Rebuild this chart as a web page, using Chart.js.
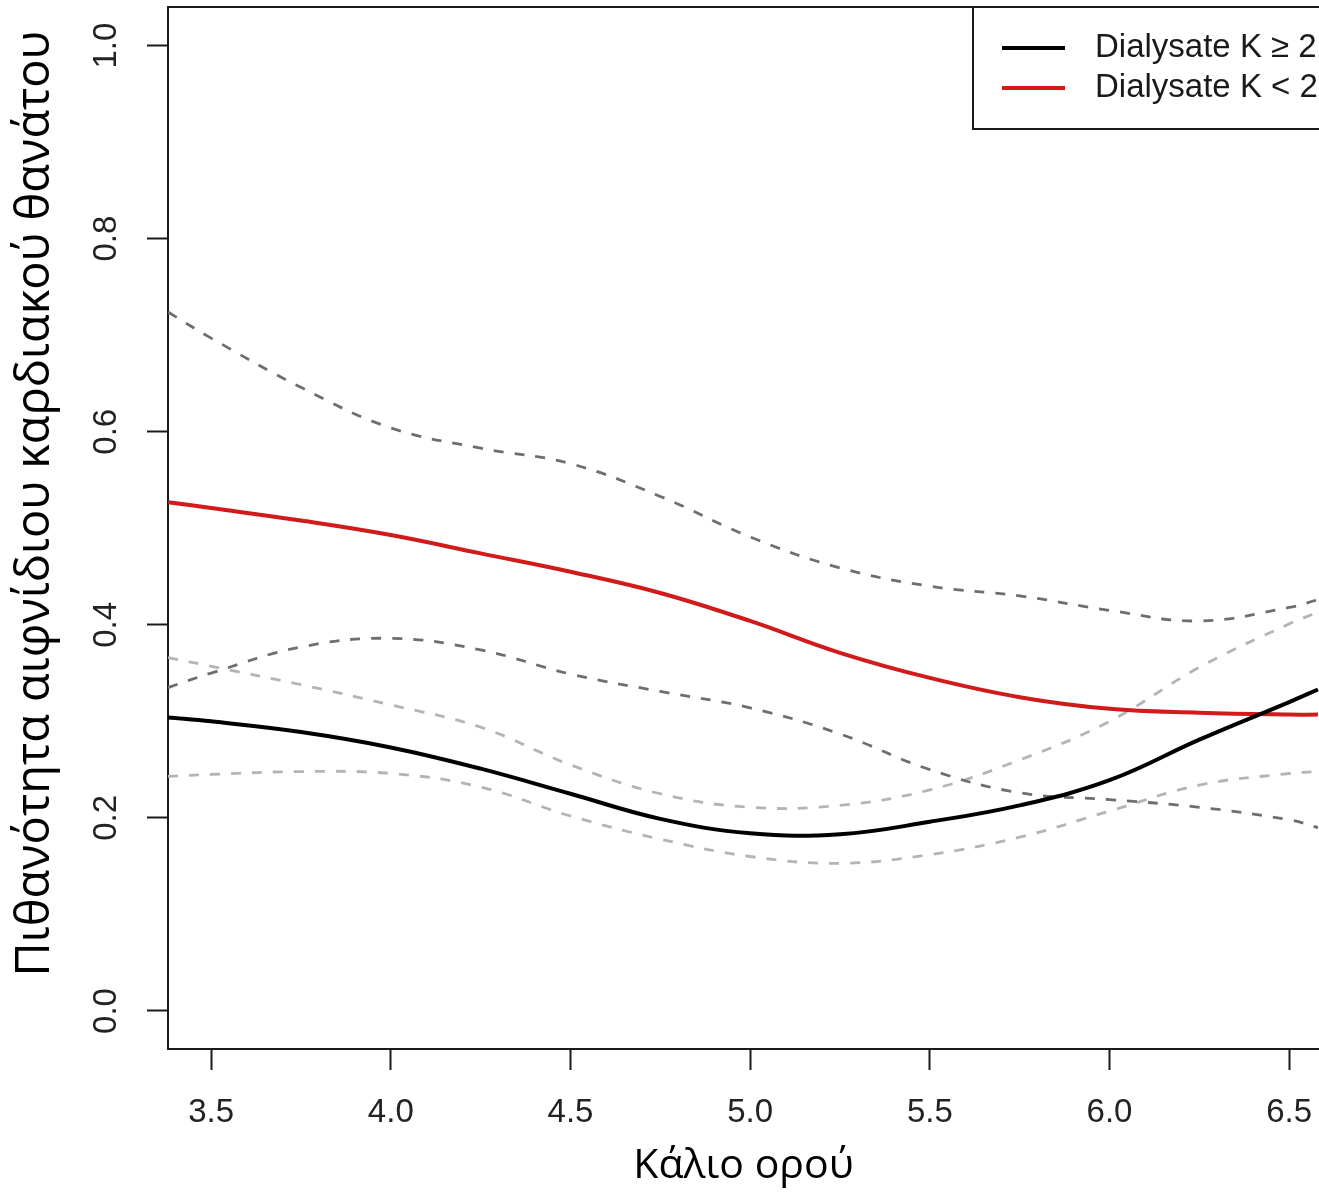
<!DOCTYPE html>
<html>
<head>
<meta charset="utf-8">
<script src="https://cdn.jsdelivr.net/npm/chart.js@4/dist/chart.umd.min.js"></script>
<style>
  html, body { margin: 0; padding: 0; background: #fff; overflow: hidden; }
  canvas { display: block; }
</style>
</head>
<body>
<canvas id="riskChart" width="1319" height="1192"></canvas>
<script>
// serum potassium (x) and estimated probability of sudden cardiac death
const xValues    = [3.38, 3.5, 3.75, 4.0, 4.25, 4.5, 4.75, 5.0, 5.25, 5.5, 5.75, 6.0, 6.25, 6.5, 6.58];
const blackFit   = [0.304, 0.300, 0.289, 0.273, 0.251, 0.225, 0.199, 0.184, 0.183, 0.196, 0.213, 0.239, 0.281, 0.320, 0.333];
const blackUpper = [0.366, 0.357, 0.338, 0.317, 0.294, 0.255, 0.225, 0.211, 0.213, 0.229, 0.260, 0.300, 0.356, 0.401, 0.413];
const blackLower = [0.243, 0.245, 0.248, 0.246, 0.232, 0.202, 0.178, 0.160, 0.153, 0.162, 0.180, 0.207, 0.234, 0.246, 0.248];
const redFit     = [0.527, 0.521, 0.508, 0.493, 0.474, 0.455, 0.433, 0.404, 0.371, 0.345, 0.325, 0.313, 0.309, 0.307, 0.307];
const redUpper   = [0.724, 0.697, 0.646, 0.604, 0.583, 0.567, 0.533, 0.491, 0.459, 0.440, 0.430, 0.415, 0.404, 0.418, 0.426];
const redLower   = [0.335, 0.350, 0.377, 0.386, 0.374, 0.349, 0.331, 0.314, 0.287, 0.250, 0.226, 0.219, 0.211, 0.198, 0.190];

const xTicks = [3.5, 4.0, 4.5, 5.0, 5.5, 6.0, 6.5];
const yTicks = [0.0, 0.2, 0.4, 0.6, 0.8, 1.0];

const xTitle = 'Κάλιο ορού';
// leading spaces nudge the rotated title up a little, as in the original
const yTitle = '    Πιθανότητα αιφνίδιου καρδιακού θανάτου';
const seriesLabels = ['Dialysate K ≥ 2', 'Dialysate K < 2'];

const tickFont = { family: '"Liberation Sans", Arial, sans-serif', size: 33 };
const xTitleFont = { family: '"Open Sans", "Noto Sans", sans-serif', size: 41 };
const yTitleFont = { family: '"Open Sans", "Noto Sans", sans-serif', size: 47 };

function toPoints(values) {
    return values.map(function(v, i) { return { x: xValues[i], y: v }; });
}

function solidLine(label, values, color) {
    return {
        label: label,
        data: toPoints(values),
        borderColor: color,
        borderWidth: 4,
        pointRadius: 0,
        tension: 0.4,
        fill: false,
        inLegend: true
    };
}

function dashedLine(label, values, color) {
    return {
        label: label,
        data: toPoints(values),
        borderColor: color,
        borderWidth: 2.8,
        borderDash: [10, 11],
        pointRadius: 0,
        tension: 0.4,
        fill: false,
        inLegend: false
    };
}

// top border + legend box drawn on top of the chart
const framePlugin = {
    id: 'frame',
    afterDraw: function(chart) {
        const ctx = chart.ctx;
        const area = chart.chartArea;
        ctx.save();
        ctx.strokeStyle = '#1a1a1a';
        ctx.lineWidth = 2;
        ctx.beginPath();
        ctx.moveTo(area.left, area.top);
        ctx.lineTo(area.right + 5, area.top);
        ctx.stroke();

        // legend
        const boxLeft = 973, boxTop = area.top, boxBottom = 129;
        ctx.fillStyle = '#fff';
        ctx.fillRect(boxLeft, boxTop, chart.width - boxLeft + 10, boxBottom - boxTop);
        ctx.strokeRect(boxLeft, boxTop, chart.width - boxLeft + 10, boxBottom - boxTop);

        const entries = chart.data.datasets.filter(function(d) { return d.inLegend; });
        ctx.font = tickFont.size + 'px ' + tickFont.family;
        ctx.textBaseline = 'alphabetic';
        ctx.textAlign = 'left';
        entries.forEach(function(d, i) {
            const y = 48 + i * 40;
            ctx.strokeStyle = d.borderColor;
            ctx.lineWidth = 4;
            ctx.beginPath();
            ctx.moveTo(1002, y);
            ctx.lineTo(1065, y);
            ctx.stroke();
            ctx.fillStyle = '#1a1a1a';
            ctx.fillText(d.label, 1095, y + 9);
        });
        ctx.restore();
    }
};

new Chart(document.getElementById('riskChart'), {
    type: 'line',
    data: {
        datasets: [
            solidLine(seriesLabels[0], blackFit, '#000000'),
            solidLine(seriesLabels[1], redFit, '#d11a1a'),
            dashedLine('K<2 upper', redUpper, '#6e6e6e'),
            dashedLine('K<2 lower', redLower, '#6e6e6e'),
            dashedLine('K≥2 upper', blackUpper, '#b4b4b4'),
            dashedLine('K≥2 lower', blackLower, '#b4b4b4')
        ]
    },
    options: {
        responsive: false,
        devicePixelRatio: 1,
        animation: false,
        layout: { padding: { top: 7, right: 0, bottom: 0, left: 0 } },
        plugins: {
            legend: { display: false },
            tooltip: { enabled: false }
        },
        scales: {
            x: {
                type: 'linear',
                min: 3.38,
                max: 6.583,
                afterBuildTicks: function(scale) {
                    scale.ticks = xTicks.map(function(v) { return { value: v }; });
                },
                afterFit: function(scale) {
                    scale.height = 143;
                    scale.paddingLeft = 0;
                    scale.paddingRight = 0;
                },
                grid: {
                    drawOnChartArea: false,
                    drawTicks: true,
                    tickLength: 21,
                    tickWidth: 2,
                    tickColor: '#1a1a1a'
                },
                border: { display: true, color: '#1a1a1a', width: 2 },
                ticks: {
                    autoSkip: false,
                    maxRotation: 0,
                    padding: 23,
                    color: '#222',
                    font: tickFont,
                    callback: function(v) { return Number(v).toFixed(1); }
                },
                title: {
                    display: true,
                    text: xTitle,
                    color: '#000',
                    font: xTitleFont,
                    padding: { top: 0, bottom: 1 }
                }
            },
            y: {
                type: 'linear',
                min: -0.0394,
                max: 1.04,
                afterBuildTicks: function(scale) {
                    scale.ticks = yTicks.map(function(v) { return { value: v }; });
                },
                afterFit: function(scale) {
                    scale.width = 168;
                    scale.paddingTop = 0;
                    scale.paddingBottom = 0;
                },
                grid: {
                    drawOnChartArea: false,
                    drawTicks: true,
                    tickLength: 21,
                    tickWidth: 2,
                    tickColor: '#1a1a1a'
                },
                border: { display: true, color: '#1a1a1a', width: 2 },
                ticks: {
                    autoSkip: false,
                    minRotation: 90,
                    maxRotation: 90,
                    crossAlign: 'center',
                    padding: 17,
                    color: '#222',
                    font: tickFont,
                    callback: function(v) { return Number(v).toFixed(1); }
                },
                title: {
                    display: true,
                    text: yTitle,
                    color: '#000',
                    font: yTitleFont,
                    padding: { top: 7, bottom: 0 }
                }
            }
        }
    },
    plugins: [framePlugin]
});
</script>
</body>
</html>
